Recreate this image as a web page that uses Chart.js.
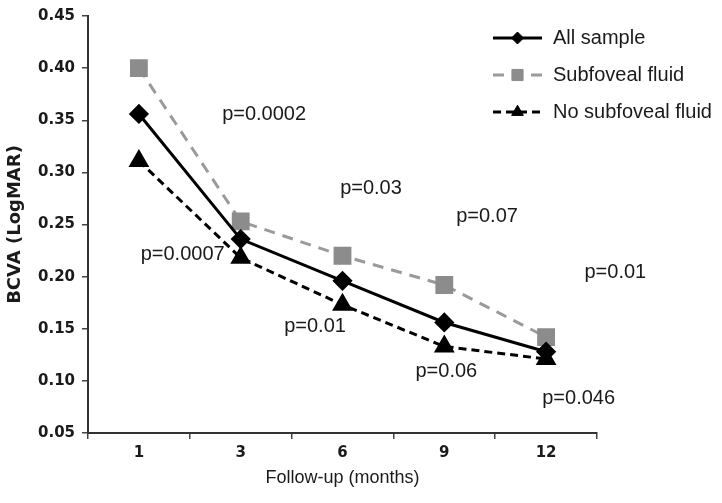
<!DOCTYPE html>
<html>
<head>
<meta charset="utf-8">
<script src="https://cdn.jsdelivr.net/npm/chart.js@4.4.1/dist/chart.umd.min.js"></script>
<style>
  html, body { margin: 0; padding: 0; background: #fff; }
  #wrap { width: 722px; height: 503px; }
</style>
</head>
<body>
<div id="wrap"><canvas id="myChart" width="722" height="503"></canvas></div>
<script>
// follow-up months
const months = ['1', '3', '6', '9', '12'];

// BCVA (LogMAR) per group
const allSample = [0.356, 0.236, 0.196, 0.156, 0.128];
const subfovealFluid = [0.400, 0.253, 0.220, 0.192, 0.142];
const noSubfovealFluid = [0.311, 0.218, 0.173, 0.133, 0.121];

const yTicks = [0.05, 0.10, 0.15, 0.20, 0.25, 0.30, 0.35, 0.40, 0.45];

// p-values written on the plot
const pTexts = ['p=0.0002', 'p=0.0007', 'p=0.03', 'p=0.01', 'p=0.07', 'p=0.06', 'p=0.01', 'p=0.046'];
// where each p-value sits (category index, LogMAR)
const pSpots = [[1.23, 0.356], [0.43, 0.221], [2.28, 0.285], [1.73, 0.152],
                [3.42, 0.258], [3.02, 0.109], [4.68, 0.204], [4.32, 0.083]];

const textFont = '"Liberation Sans", Arial, sans-serif';
const boldFont = '"DejaVu Sans", sans-serif';

let pLabels = {
  id: 'pLabels',
  afterDatasetsDraw(chart) {
    let ctx = chart.ctx;
    let x = chart.scales.x, y = chart.scales.y;
    ctx.save();
    ctx.font = '20px ' + textFont;
    ctx.fillStyle = '#1a1a1a';
    ctx.textAlign = 'center';
    ctx.textBaseline = 'middle';
    pTexts.forEach((t, i) => {
      ctx.fillText(t, x.getPixelForValue(pSpots[i][0]), y.getPixelForValue(pSpots[i][1]));
    });
    ctx.restore();
  }
};

// legend drawn as line + marker, like the original figure
let lineLegend = {
  id: 'lineLegend',
  afterDraw(chart) {
    let ctx = chart.ctx;
    let area = chart.chartArea;
    let x0 = area.right - 104, x1 = area.right - 55, tx = area.right - 44;
    ctx.save();
    chart.data.datasets.forEach((ds, i) => {
      let yy = area.top + 22 + i * 37;
      ctx.strokeStyle = ds.borderColor;
      ctx.lineWidth = 3;
      ctx.setLineDash(ds.borderDash || []);
      ctx.beginPath();
      ctx.moveTo(x0, yy);
      ctx.lineTo(x1, yy);
      ctx.stroke();
      ctx.setLineDash([]);
      ctx.fillStyle = ds.pointBackgroundColor;
      ctx.strokeStyle = ds.pointBackgroundColor;
      ctx.lineWidth = 1;
      Chart.helpers.drawPoint(ctx, { pointStyle: ds.pointStyle, radius: ds.pointRadius * 0.75, borderWidth: 1 }, (x0 + x1) / 2, yy);
      ctx.fillStyle = '#1a1a1a';
      ctx.font = '20px ' + textFont;
      ctx.textAlign = 'left';
      ctx.textBaseline = 'middle';
      ctx.fillText(ds.label, tx, yy);
    });
    ctx.restore();
  }
};

let ctx = document.getElementById('myChart').getContext('2d');
let chart = new Chart(ctx, {
  type: 'line',
  data: {
    labels: months,
    datasets: [{
      label: 'All sample',
      data: allSample,
      borderColor: '#000',
      borderWidth: 3,
      pointStyle: 'rectRot',
      pointRadius: 8,
      pointBackgroundColor: '#000',
      pointBorderColor: '#000',
    }, {
      label: 'Subfoveal fluid',
      data: subfovealFluid,
      borderColor: '#9a9a9a',
      borderWidth: 3,
      borderDash: [11, 8],
      pointStyle: 'rect',
      pointRadius: 10.5,
      pointBackgroundColor: '#8c8c8c',
      pointBorderColor: '#8c8c8c',
    }, {
      label: 'No subfoveal fluid',
      data: noSubfovealFluid,
      borderColor: '#000',
      borderWidth: 3,
      borderDash: [8, 5],
      pointStyle: 'triangle',
      pointRadius: 9,
      pointBackgroundColor: '#000',
      pointBorderColor: '#000',
    }]
  },
  options: {
    responsive: false,
    animation: false,
    layout: { padding: { top: 11, right: 125, left: 0, bottom: 0 } },
    plugins: {
      legend: { display: false },
      tooltip: { enabled: false },
    },
    scales: {
      x: {
        offset: true,
        grid: { display: true, offset: true, drawOnChartArea: false, drawTicks: true, tickLength: 6, color: '#444', lineWidth: 1.5 },
        border: { display: true, color: '#333', width: 2 },
        ticks: { color: '#1a1a1a', font: { family: boldFont, size: 15, weight: 'bold' }, padding: 5 },
        title: { display: true, text: 'Follow-up (months)', color: '#1a1a1a', font: { family: textFont, size: 18 }, padding: { top: 2, bottom: 14 } },
        afterFit: s => { s.height = 70; },
      },
      y: {
        min: 0.05,
        max: 0.45,
        afterBuildTicks: s => { s.ticks = yTicks.map(v => ({ value: v })); },
        grid: { display: true, drawOnChartArea: false, drawTicks: true, tickLength: 6, color: '#444', lineWidth: 1.5 },
        border: { display: true, color: '#333', width: 2 },
        ticks: {
          color: '#1a1a1a',
          font: { family: boldFont, size: 15, weight: 'bold' },
          padding: 7,
          callback: v => v.toFixed(2),
        },
        title: { display: true, text: 'BCVA (LogMAR)', color: '#1a1a1a', font: { family: boldFont, size: 18, weight: 'bold' }, padding: { top: 5, bottom: 0 } },
        afterFit: s => { s.width = 88; },
      }
    }
  },
  plugins: [pLabels, lineLegend]
});
</script>
</body>
</html>
